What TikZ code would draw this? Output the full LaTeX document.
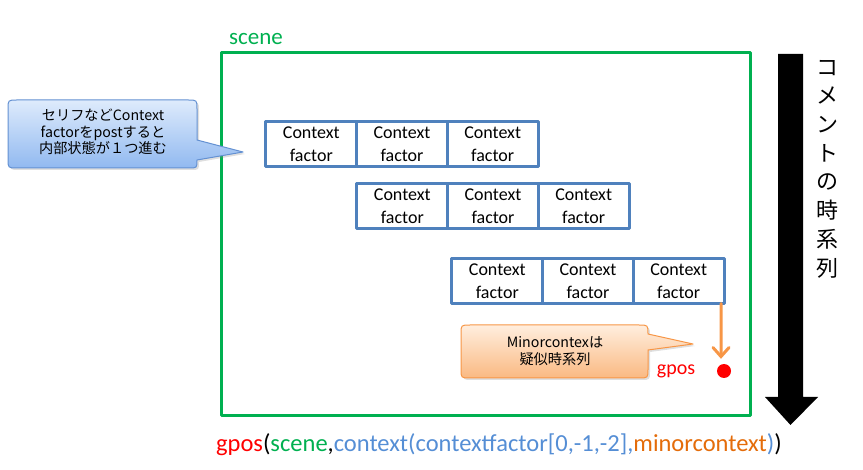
\documentclass[tikz,border=0pt]{standalone}
\usepackage{fontspec}
\setmainfont{Carlito}
\newfontfamily\jpfont{Noto Sans CJK JP}
\usetikzlibrary{positioning}
\usetikzlibrary{arrows.meta}
\usetikzlibrary{shadows}

\begin{document}
\begin{tikzpicture}
	[x=1pt,y=-1pt,line join=round,
	%Styles
	scene box/.style={draw=scenegreen,line width=3pt},
	cf/.style={draw=boxblue,line width=3pt,minimum width=90.7pt,minimum height=45pt,
		inner sep=0pt,outer sep=0pt,align=center,font=\fontsize{18}{23}\selectfont},
	blue callout/.style={draw=callblue,line width=1pt,top color=calltop,bottom color=callbottom,
		drop shadow={opacity=.25,shadow xshift=2pt,shadow yshift=-2pt}},
	orange callout/.style={draw=gposorange,line width=1pt,top color=orangetop,bottom color=orangebottom,
		drop shadow={opacity=.25,shadow xshift=2pt,shadow yshift=-2pt}},
	callout text/.style={align=center,font=\jpfont\fontsize{14.2}{16.5}\selectfont},
	gpos arrow/.style={draw=gposorange,line width=3pt,line cap=round,-{Straight Barb[length=9pt,width=16pt,line cap=round]}}
	]

	%Colors
	\definecolor{scenegreen}{RGB}{0,176,80}
	\definecolor{boxblue}{RGB}{79,129,189}
	\definecolor{textblue}{RGB}{85,142,213}
	\definecolor{callblue}{RGB}{100,145,210}
	\definecolor{calltop}{RGB}{222,235,252}
	\definecolor{callbottom}{RGB}{145,185,240}
	\definecolor{gposorange}{RGB}{247,150,70}
	\definecolor{orangetop}{RGB}{255,238,222}
	\definecolor{orangebottom}{RGB}{250,185,130}
	\definecolor{textorange}{RGB}{228,108,10}

	\useasboundingbox (0,0) rectangle (863,470);

	%The scene
	\draw[scene box] (221,53) rectangle (750,416);
	\node[text=scenegreen,font=\fontsize{23}{26}\selectfont] (scenelabel) at (256,39) {scene};

	%Context factors
	\node[cf] (a1) at (311.3,144.5) {Context\\factor};
	\node[cf,right=0pt of a1] (a2) {Context\\factor};
	\node[cf,right=0pt of a2] (a3) {Context\\factor};

	\node[cf] (b1) at (402.3,206) {Context\\factor};
	\node[cf,right=0pt of b1] (b2) {Context\\factor};
	\node[cf,right=0pt of b2] (b3) {Context\\factor};

	\node[cf] (c1) at (497.3,281) {Context\\factor};
	\node[cf,right=0pt of c1] (c2) {Context\\factor};
	\node[cf,right=0pt of c2] (c3) {Context\\factor};

	%gpos
	\node[circle,fill=red,inner sep=0pt,minimum size=14pt] (gposdot) at (724,371) {};
	\node[text=red,font=\fontsize{20}{24}\selectfont,left=18pt of gposdot] (gpos) {gpos};
	\draw[gpos arrow] ([xshift=-3pt]c3.south east) -- ([xshift=-3pt,yshift=5pt]gposdot.north);

	%Callouts
	\path[blue callout] (17,100) -- (188,100) .. controls (197,100) .. (197,109) -- (197,140) -- (243,152)
		-- (197,160) .. controls (197,168) .. (189,168) -- (17,168) .. controls (8,168) .. (8,159)
		-- (8,109) .. controls (8,100) .. (17,100) -- cycle;
	\node[callout text] (postnote) at (103,132) {セリフなどContext\\factorをpostすると\\内部状態が１つ進む};

	\path[orange callout] (470,325) -- (639,325) .. controls (648,325) .. (648,334) -- (693,344)
		-- (648,350) -- (648,369) .. controls (648,378) .. (639,378) -- (470,378) .. controls (461,378) .. (461,369)
		-- (461,334) .. controls (461,325) .. (470,325) -- cycle;
	\node[callout text] (minornote) at (555,351) {Minorcontexは\\疑似時系列};

	%Time axis of comments
	\fill (778,54) -- (803,54) -- (803,397) -- (818,397) -- (790.5,425) -- (765,397) -- (778,397) -- cycle;
	\node[align=center,font=\jpfont\fontsize{22}{28.7}\selectfont] (timeline) at (827,169) {コ\\メ\\ン\\ト\\の\\時\\系\\列};

	%Formula
	\node[font=\fontsize{24.5}{28}\selectfont] (formula) at (499,445)
		{\textcolor{red}{gpos}(\textcolor{scenegreen}{scene},\textcolor{textblue}{context(contextfactor[0,-1,-2],}\textcolor{textorange}{minorcontext}\textcolor{textblue}{)})};
\end{tikzpicture}
\end{document}
